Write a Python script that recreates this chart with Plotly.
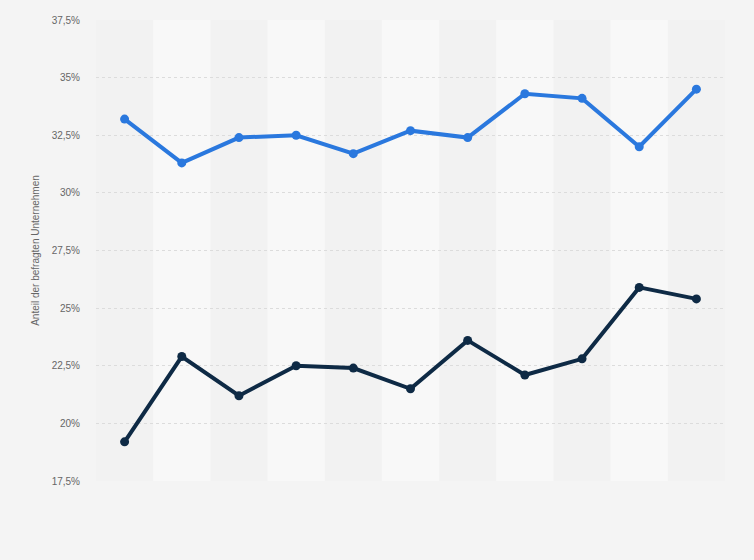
import plotly.graph_objects as go

# hidden x categories (no labels shown in the chart)
periods = ["P1", "P2", "P3", "P4", "P5", "P6", "P7", "P8", "P9", "P10", "P11"]

series_top = [33.2, 31.3, 32.4, 32.5, 31.7, 32.7, 32.4, 34.3, 34.1, 32.0, 34.5]
series_bottom = [19.2, 22.9, 21.2, 22.5, 22.4, 21.5, 23.6, 22.1, 22.8, 25.9, 25.4]

y_ticks = [17.5, 20, 22.5, 25, 27.5, 30, 32.5, 35, 37.5]
y_tick_labels = ["17,5%", "20%", "22,5%", "25%", "27,5%", "30%", "32,5%", "35%", "37,5%"]

fig = go.Figure()

fig.add_trace(go.Scatter(
    x=periods,
    y=series_top,
    mode="lines+markers",
    line=dict(color="#2a78de", width=4),
    marker=dict(color="#2a78de", size=9),
    showlegend=False,
    hoverinfo="y"
))

fig.add_trace(go.Scatter(
    x=periods,
    y=series_bottom,
    mode="lines+markers",
    line=dict(color="#0e2a45", width=4),
    marker=dict(color="#0e2a45", size=9),
    showlegend=False,
    hoverinfo="y"
))

# alternating column bands
shapes = []
for i in range(len(periods)):
    if i % 2 == 1:
        shapes.append(dict(
            type="rect", xref="x", yref="paper",
            x0=i - 0.5, x1=i + 0.5, y0=0, y1=1,
            fillcolor="#f8f8f8", line=dict(width=0), layer="below"
        ))

fig.update_layout(
    width=754,
    height=560,
    margin=dict(l=96, r=29, t=20, b=79),
    paper_bgcolor="#f4f4f4",
    plot_bgcolor="#f2f2f2",
    font=dict(family="Liberation Sans, Arial, sans-serif", size=11, color="#666666"),
    shapes=shapes,
    xaxis=dict(
        range=[-0.5, len(periods) - 0.5],
        showticklabels=False,
        showgrid=False,
        zeroline=False,
        showline=False,
        ticks=""
    ),
    yaxis=dict(
        range=[17.5, 37.5],
        tickvals=y_ticks,
        ticktext=y_tick_labels,
        showgrid=True,
        gridcolor="#dcdcdc",
        griddash="dot",
        gridwidth=1,
        zeroline=False,
        showline=False,
        ticks="",
        ticklabelstandoff=15,
        tickfont=dict(size=10, color="#666666"),
        title=dict(text="Anteil der befragten Unternehmen",
                   font=dict(size=10, color="#666666"), standoff=10)
    )
)

fig.write_html("out.html", config={"displayModeBar": False},
               post_script="document.body.style.margin='0';")
